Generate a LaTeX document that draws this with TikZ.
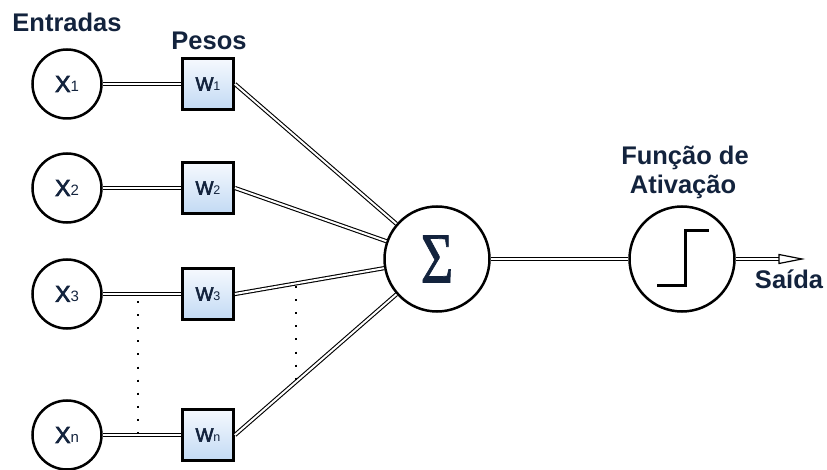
\documentclass[tikz,border=0pt]{standalone}
\usepackage{fontspec}
\setmainfont{Liberation Sans}
\newfontfamily\labelfont[FakeBold=3]{Liberation Sans}
\newfontfamily\sigmafont[FakeBold=1]{Liberation Serif}
\usepackage{graphicx}
\definecolor{navy}{HTML}{13233D}
\definecolor{boxtop}{HTML}{F5F9FE}
\definecolor{boxbot}{HTML}{C3DAF4}
% input and weight labels: big letter followed by a small index on the baseline
\newcommand\xlab[1]{{\labelfont\fontsize{23}{23}\selectfont X}{\fontsize{15}{15}\selectfont #1}}
\newcommand\wlab[1]{{\labelfont\fontsize{19}{19}\selectfont W}{\fontsize{12.5}{12.5}\selectfont #1}}
\begin{document}
\begin{tikzpicture}[x=1pt,y=-1pt,
  inputnode/.style={circle, draw=black, line width=2.5pt, minimum size=69pt,
    inner sep=0pt, text=navy},
  weightbox/.style={rectangle, draw=black, line width=2.8pt, minimum size=51pt,
    inner sep=0pt, top color=boxtop, bottom color=boxbot, text=navy},
  bignode/.style={circle, draw=black, line width=2.5pt, minimum size=105pt,
    inner sep=0pt, text=navy},
  wire/.style={draw=black, double=white, line width=1.1pt, double distance=2pt},
  heading/.style={font=\fontsize{25.5}{29}\selectfont\bfseries, text=navy,
    inner sep=0pt, anchor=base},
  dotline/.style={line width=2pt, dash pattern=on 2pt off 11.1pt}
]
\useasboundingbox (0,0) rectangle (827,470);

% headings
\node[heading] (entradas) at (67,32) {Entradas};
\node[heading] (pesos) at (209,50) {Pesos};
\node[heading] (funcao) at (685,165) {Função de};
\node[heading] (ativacao) at (683,194) {Ativação};
\node[heading] (saida) at (789,288) {Saída};

% inputs
\node[inputnode] (x1) at (67,84)  {\xlab{1}};
\node[inputnode] (x2) at (67,188) {\xlab{2}};
\node[inputnode] (x3) at (67,294) {\xlab{3}};
\node[inputnode] (xn) at (67,435) {\xlab{n}};

% weights
\node[weightbox] (w1) at (208,84)  {\wlab{1}};
\node[weightbox] (w2) at (208,188) {\wlab{2}};
\node[weightbox] (w3) at (208,294) {\wlab{3}};
\node[weightbox] (wn) at (208,435) {\wlab{n}};

% summation and activation
\node[bignode, font=\sigmafont\fontsize{72}{72}\selectfont] (sum) at (437,259)
  {\scalebox{0.78}[1]{Σ}};
\node[bignode] (act) at (682,259) {};
\draw[line width=3pt] ([shift={(-25,27)}]act.center) -- ++(28,0) -- ++(0,-55) -- ++(24,0);

% connections
\foreach \i in {1,2,3,n} {
  \draw[wire] (x\i.east) -- (w\i.west);
  \draw[wire] (w\i.east) -- (sum);
}
\draw[wire] (sum.east) -- (act.west);

% output arrow
\coordinate (outtip) at (802,259);
\coordinate (outbase) at (779,259);
\draw[wire] (act.east) -- (outbase);
\draw[line width=1.2pt, fill=white, line join=miter]
  (outtip) -- ([yshift=-4.5pt]outbase) -- ([yshift=4.5pt]outbase) -- cycle;

% ellipsis between the third and the last row
\draw[dotline] (138,301) -- (138,440);
\draw[dotline] (296,286) -- (296,384);
\end{tikzpicture}
\end{document}
